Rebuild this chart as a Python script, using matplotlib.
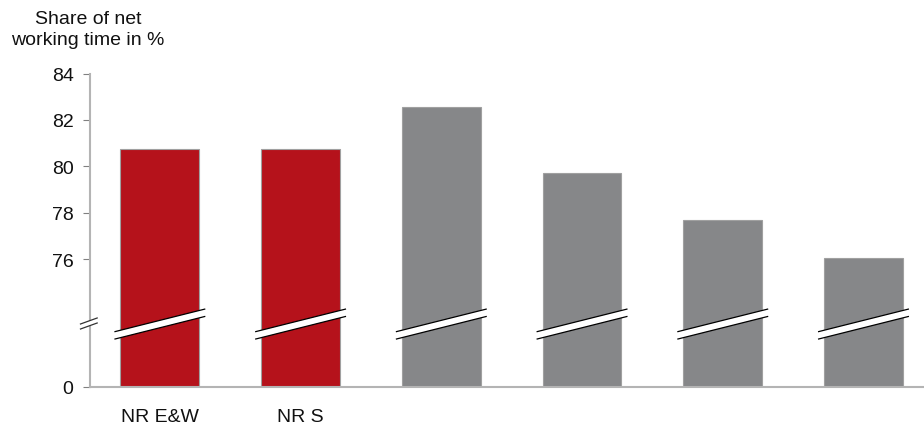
import numpy as np
import matplotlib
matplotlib.use("Agg")
import matplotlib.pyplot as plt
from matplotlib.patches import Polygon
import matplotlib.transforms as mtransforms

plt.rcParams['font.family'] = ['Liberation Sans', 'DejaVu Sans']

categories = ["NR E&W", "NR S", "", "", "", ""]
values = [80.75, 80.75, 82.57, 79.70, 77.70, 76.03]
bar_colors = ["#B5121B", "#B5121B", "#868789", "#868789", "#868789", "#868789"]
yticks = [0, 76, 78, 80, 82, 84]

# broken-axis scale: 0..76 compressed, 76..84 linear
BRK_V = 76.0
GAP = 5.5

def fwd(v):
    v = np.asarray(v, dtype=float)
    return np.where(v >= BRK_V, v - BRK_V + GAP, v * GAP / BRK_V)

def inv(t):
    t = np.asarray(t, dtype=float)
    return np.where(t >= GAP, t - GAP + BRK_V, t * BRK_V / GAP)

W, H = 924, 427
fig = plt.figure(figsize=(W / 100, H / 100), dpi=100)
ax_l, ax_r = 89.5 / W, 924 / W
ax_b, ax_t = 1 - 387.7 / H, 1 - 74.5 / H
ax = fig.add_axes([ax_l, ax_b, ax_r - ax_l, ax_t - ax_b])
ax.set_yscale('function', functions=(fwd, inv))

x = np.arange(len(categories))
bw = 0.56
ax.bar(x, values, width=bw, color=bar_colors, edgecolor="#A0A0A0", linewidth=0.8, zorder=2)
ax.set_xlim(-0.5, 5.43)
ax.set_ylim(0, 84)

ax.set_yticks(yticks)
ax.set_yticklabels([str(t) for t in yticks])
ax.set_xticks(x)
ax.set_xticklabels(categories)

axis_col = "#B4B4B4"
for s in ["top", "right"]:
    ax.spines[s].set_visible(False)
ax.spines["left"].set_color(axis_col)
ax.spines["bottom"].set_color(axis_col)
ax.spines["left"].set_linewidth(1.5)
ax.spines["bottom"].set_linewidth(1.5)
ax.tick_params(axis='y', length=5, width=0.8, color="#808080", pad=6.5, labelsize=14, labelcolor="#111111")
ax.tick_params(axis='x', length=0, pad=15.5, labelsize=14, labelcolor="#111111")

# bar break marks (x in data, y in axes fraction)
trans = mtransforms.blended_transform_factory(ax.transData, ax.transAxes)
yc = 0.200
rise = 0.0364
off = 0.0118
ext = bw / 2 + 0.043
for xi in x:
    xl, xr = xi - ext, xi + ext
    poly = Polygon([[xl, yc - rise - off], [xr, yc + rise - off],
                    [xr, yc + rise + off], [xl, yc - rise + off]],
                   closed=True, transform=trans, facecolor="white", edgecolor="none",
                   zorder=3, clip_on=False)
    ax.add_patch(poly)
    for o in (-off, off):
        ax.plot([xl, xr], [yc - rise + o, yc + rise + o], color="black", lw=0.9,
                transform=trans, zorder=4, clip_on=False, solid_capstyle='butt')

# axis break marks (axes coordinates)
axc = 0.2018
ax_rise = 0.0096
ax_off = 0.008
xa_l, xa_r = -0.0108, 0.0092
poly = Polygon([[xa_l, axc - ax_rise - ax_off], [xa_r, axc + ax_rise - ax_off],
                [xa_r, axc + ax_rise + ax_off], [xa_l, axc - ax_rise + ax_off]],
               closed=True, transform=ax.transAxes, facecolor="white", edgecolor="none",
               zorder=5, clip_on=False)
ax.add_patch(poly)
for o in (-ax_off, ax_off):
    ax.plot([xa_l, xa_r], [axc - ax_rise + o, axc + ax_rise + o], color="#333333", lw=0.9,
            transform=ax.transAxes, zorder=6, clip_on=False)

fig.text(88 / W, 1 - 30 / H, "Share of net\nworking time in %", ha="center", va="center",
         ma="center", fontsize=14, color="#111111", linespacing=1.35)

fig.savefig("out.png", dpi=100)
